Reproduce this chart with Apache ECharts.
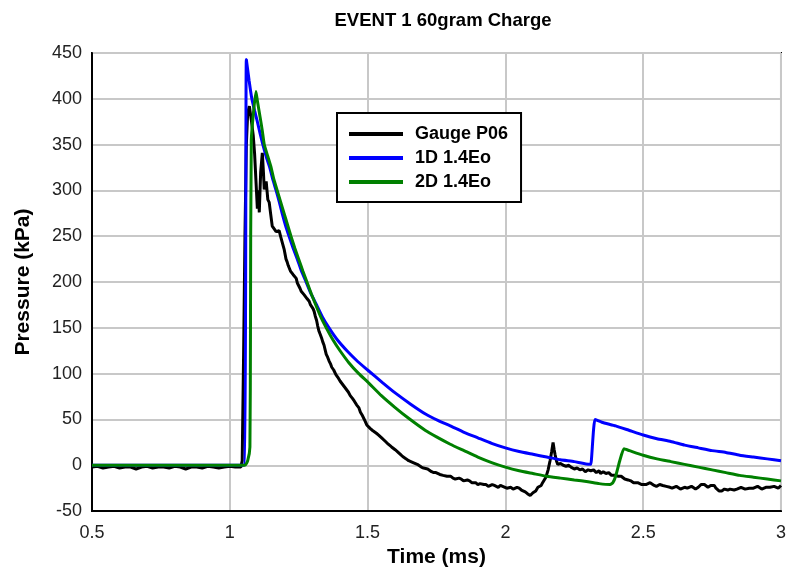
<!DOCTYPE html>
<html>
<head>
<meta charset="utf-8">
<script src="https://cdn.jsdelivr.net/npm/echarts@6/dist/echarts.min.js"></script>
<style>html,body{margin:0;padding:0;background:#fff}#c{width:789px;height:573px}</style>
</head>
<body>
<div id="c"></div>
<script>
const seriesNames = ['Gauge P06', '1D 1.4Eo', '2D 1.4Eo'];
const xTicks = [0.5, 1, 1.5, 2, 2.5, 3];
const yTicks = [-50, 0, 50, 100, 150, 200, 250, 300, 350, 400, 450];

const gaugeP06 = [
[0.5,-2],[0.52,-1],[0.54,-3],[0.56,-2],[0.58,-1],[0.6,-3],[0.62,-2],[0.64,-2],[0.66,-4],[0.68,-2],[0.7,-1],[0.72,-3],[0.74,-2],[0.76,-2],[0.78,-3],[0.8,-1],[0.82,-2],[0.84,-4],[0.86,-2],[0.88,-2],[0.9,-3],[0.92,-1],[0.94,-2],[0.96,-3],[0.98,-2],[1.0,-1],[1.02,-2],[1.04,-2],
[1.045,5],[1.05,120],[1.055,250],[1.06,350],[1.065,385],[1.071,392],[1.078,377],[1.085,360],[1.09,340],[1.095,310],[1.1,280],[1.104,300],[1.107,276],[1.112,320],[1.118,341],[1.122,320],[1.125,301],[1.132,310],[1.138,290],[1.143,287],[1.148,275],[1.154,261],[1.16,262],[1.168,255],[1.179,256],[1.185,249],[1.19,247],[1.197,236],[1.204,225],[1.208,222],[1.212,218],[1.216,216],[1.22,212],[1.225,211],[1.23,208],[1.236,206],[1.241,204],[1.245,199],[1.25,196],[1.255,193],[1.259,190],[1.264,189],[1.27,186],[1.275,184],[1.28,182],[1.284,180],[1.288,179],[1.293,175],[1.297,173],[1.302,171],[1.306,168],[1.31,163],[1.315,158],[1.319,152],[1.324,146],[1.328,143],[1.333,139],[1.337,135],[1.342,131],[1.346,126],[1.35,121],[1.355,118],[1.36,114],[1.365,111],[1.37,107],[1.377,104],[1.385,99],[1.392,96],[1.4,92],[1.407,90],[1.415,86],[1.422,84],[1.43,80],[1.437,76],[1.445,73],[1.452,70],[1.46,66],[1.468,63],[1.474,58],[1.48,55],[1.488,50],[1.497,44],[1.503,42],[1.51,40],[1.518,38],[1.525,36],[1.532,35],[1.54,33],[1.546,31],[1.551,30],[1.558,28],[1.565,26],[1.57,25],[1.575,23],[1.581,22],[1.587,20],[1.594,18],[1.6,17],[1.608,15],[1.615,14],[1.622,11],[1.63,9],[1.64,7],[1.649,5],[1.657,4],[1.665,3],[1.672,2],[1.68,1],[1.687,-1],[1.695,-2],[1.703,-3],[1.71,-4],[1.718,-4],[1.725,-5],[1.732,-7],[1.74,-8],[1.748,-8],[1.755,-9],[1.762,-10],[1.768,-11],[1.774,-11],[1.78,-12],[1.788,-12],[1.795,-13],[1.802,-12],[1.81,-14],[1.818,-15],[1.825,-16],[1.832,-14],[1.84,-15],[1.848,-17],[1.855,-18],[1.862,-16],[1.87,-17],[1.878,-19],[1.885,-20],[1.892,-19],[1.9,-21],[1.908,-20],[1.915,-22],[1.922,-21],[1.93,-21],[1.938,-23],[1.945,-23],[1.952,-21],[1.96,-22],[1.967,-24],[1.974,-24],[1.982,-22],[1.99,-23],[1.997,-25],[2.005,-25],[2.012,-23],[2.02,-24],[2.028,-26],[2.035,-27],[2.042,-24],[2.05,-25],[2.058,-27],[2.065,-28],[2.072,-29],[2.08,-31],[2.085,-30],[2.09,-33],[2.095,-31],[2.1,-30],[2.105,-30],[2.11,-28],[2.114,-26],[2.118,-24],[2.124,-23],[2.13,-22],[2.135,-19],[2.14,-17],[2.147,-13],[2.155,-5],[2.162,5],[2.168,15],[2.173,25],[2.177,17],[2.18,12],[2.185,5],[2.19,1],[2.195,3],[2.2,2],[2.205,1],[2.21,0],[2.215,1],[2.22,-1],[2.225,1],[2.23,0],[2.234,-2],[2.238,-2],[2.244,-1],[2.25,-4],[2.255,-2],[2.26,-3],[2.265,-4],[2.27,-5],[2.275,-3],[2.28,-4],[2.285,-6],[2.29,-7],[2.295,-5],[2.3,-5],[2.305,-7],[2.31,-6],[2.315,-4],[2.32,-5],[2.325,-7],[2.33,-8],[2.335,-6],[2.34,-6],[2.345,-9],[2.35,-8],[2.355,-7],[2.36,-7],[2.365,-9],[2.37,-10],[2.375,-8],[2.38,-9],[2.385,-11],[2.39,-11],[2.397,-11],[2.404,-13],[2.41,-12],[2.415,-11],[2.42,-12],[2.427,-14],[2.433,-15],[2.44,-14],[2.445,-16],[2.45,-17],[2.455,-17],[2.46,-16],[2.465,-19],[2.472,-18],[2.48,-19],[2.487,-20],[2.495,-21],[2.502,-20],[2.51,-21],[2.517,-20],[2.525,-19],[2.532,-21],[2.54,-22],[2.548,-23],[2.555,-22],[2.56,-21],[2.565,-20],[2.571,-22],[2.577,-24],[2.584,-23],[2.59,-22],[2.597,-24],[2.605,-25],[2.612,-24],[2.62,-23],[2.627,-25],[2.635,-26],[2.642,-25],[2.65,-24],[2.655,-26],[2.66,-25],[2.667,-24],[2.675,-23],[2.682,-25],[2.69,-26],[2.695,-25],[2.7,-24],[2.705,-22],[2.71,-21],[2.716,-20],[2.722,-21],[2.728,-23],[2.735,-24],[2.74,-23],[2.745,-22],[2.752,-21],[2.758,-22],[2.764,-25],[2.77,-27],[2.775,-28],[2.78,-29],[2.785,-28],[2.79,-27],[2.795,-26],[2.8,-28],[2.807,-27],[2.815,-26],[2.822,-25],[2.83,-27],[2.835,-26],[2.84,-26],[2.847,-25],[2.855,-24],[2.862,-25],[2.87,-26],[2.877,-24],[2.885,-25],[2.892,-26],[2.9,-25],[2.907,-24],[2.915,-23],[2.922,-25],[2.93,-26],[2.937,-25],[2.945,-24],[2.952,-23],[2.96,-24],[2.967,-25],[2.975,-23],[2.982,-22],[2.99,-25],[2.995,-24],[3.0,-22]
];

const oneD14Eo = [
[0.5,0],[1.05,0],[1.06,443],[1.07,420],[1.08,400],[1.09,387],[1.10,375],[1.11,362],[1.12,350],[1.132,337],[1.145,325],[1.156,312],[1.168,300],[1.18,287],[1.19,275],[1.202,262],[1.215,250],[1.23,237],[1.245,225],[1.26,212],[1.277,200],[1.295,187],[1.315,175],[1.336,162],[1.36,150],[1.39,137],[1.425,125],[1.465,113],[1.5,104],[1.555,90],[1.6,79],[1.655,67],[1.71,56],[1.755,49],[1.8,43],[1.85,36],[1.9,30],[1.95,24],[2.0,19],[2.05,15],[2.1,12],[2.15,9],[2.2,6],[2.25,4],[2.305,1],[2.31,1],[2.325,50],[2.35,47],[2.4,43],[2.45,38],[2.5,33],[2.55,29],[2.6,26],[2.65,22],[2.7,19],[2.75,16],[2.8,14],[2.85,11],[2.9,9],[2.95,7],[3.0,5]
];

const twoD14Eo = [
[0.5,0],[1.055,0],[1.065,5],[1.073,20],[1.075,145],[1.078,355],[1.095,408],[1.10,398],[1.11,380],[1.118,365],[1.125,350],[1.138,337],[1.15,325],[1.16,312],[1.172,300],[1.185,287],[1.197,275],[1.21,262],[1.222,250],[1.236,237],[1.25,225],[1.265,212],[1.28,200],[1.296,187],[1.312,175],[1.33,162],[1.35,150],[1.374,137],[1.40,125],[1.432,112],[1.468,100],[1.5,91],[1.55,76],[1.6,63],[1.65,51],[1.71,38],[1.75,31],[1.8,23],[1.85,16],[1.9,9],[1.95,3],[2.0,-2],[2.05,-6],[2.1,-9],[2.15,-12],[2.2,-14],[2.25,-16],[2.3,-18],[2.34,-20],[2.38,-21],[2.39,-19],[2.4,-12],[2.415,5],[2.43,18],[2.45,16],[2.5,11],[2.55,7],[2.6,4],[2.65,1],[2.7,-2],[2.75,-5],[2.8,-8],[2.85,-11],[2.9,-13],[2.95,-15],[3.0,-17]
];

const colors = ['#000000', '#0000ff', '#008000'];
const chart = echarts.init(document.getElementById('c'), null, {renderer: 'canvas'});
const FONT = 'Liberation Sans, Arial, sans-serif';
chart.setOption({
  animation: false,
  backgroundColor: '#ffffff',
  title: {
    text: 'EVENT 1 60gram Charge',
    left: 438, top: 6, textAlign: 'center',
    textStyle: {fontFamily: FONT, fontSize: 18.5, fontWeight: 'bold', color: '#000'}
  },
  legend: {
    orient: 'vertical', left: 337, top: 113,
    backgroundColor: '#fff', borderColor: '#000', borderWidth: 2,
    padding: [11, 13, 10, 12], itemGap: 4,
    itemWidth: 54, itemHeight: 4, icon: 'rect',
    textStyle: {fontFamily: FONT, fontSize: 18, fontWeight: 'bold', color: '#000', padding: [0, 0, 0, 7], lineHeight: 20},
    data: seriesNames
  },
  grid: {left: 92, right: 5, top: 53, bottom: 59, show: true, borderColor: '#000', borderWidth: 2, backgroundColor: 'transparent'},
  xAxis: {
    type: 'value', min: xTicks[0], max: xTicks[xTicks.length - 1], interval: 0.5,
    name: 'Time (ms)', nameLocation: 'middle', nameGap: 34,
    nameTextStyle: {fontFamily: FONT, fontSize: 21, fontWeight: 'bold', color: '#000'},
    axisLine: {show: true, onZero: false, lineStyle: {color: '#000', width: 2}},
    axisTick: {show: false},
    axisLabel: {fontFamily: FONT, fontSize: 18, color: '#222', margin: 13},
    splitLine: {show: true, lineStyle: {color: '#c8c8c8', width: 2}}
  },
  yAxis: {
    type: 'value', min: yTicks[0], max: yTicks[yTicks.length - 1], interval: 50,
    name: 'Pressure (kPa)', nameLocation: 'middle', nameGap: 58,
    nameTextStyle: {fontFamily: FONT, fontSize: 21, fontWeight: 'bold', color: '#000'},
    axisLine: {show: true, onZero: false, lineStyle: {color: '#000', width: 2}},
    axisTick: {show: false},
    axisLabel: {fontFamily: FONT, fontSize: 18, color: '#222', margin: 10},
    splitLine: {show: true, lineStyle: {color: '#c8c8c8', width: 2}}
  },
  series: [
    {name: seriesNames[0], type: 'line', data: gaugeP06, showSymbol: false, symbol: 'none', lineStyle: {color: colors[0], width: 3}, itemStyle: {color: colors[0]}, z: 3},
    {name: seriesNames[1], type: 'line', data: oneD14Eo, showSymbol: false, symbol: 'none', smooth: 0.15, lineStyle: {color: colors[1], width: 3}, itemStyle: {color: colors[1]}, z: 3},
    {name: seriesNames[2], type: 'line', data: twoD14Eo, showSymbol: false, symbol: 'none', smooth: 0.15, lineStyle: {color: colors[2], width: 3}, itemStyle: {color: colors[2]}, z: 3}
  ]
});
</script>
</body>
</html>
